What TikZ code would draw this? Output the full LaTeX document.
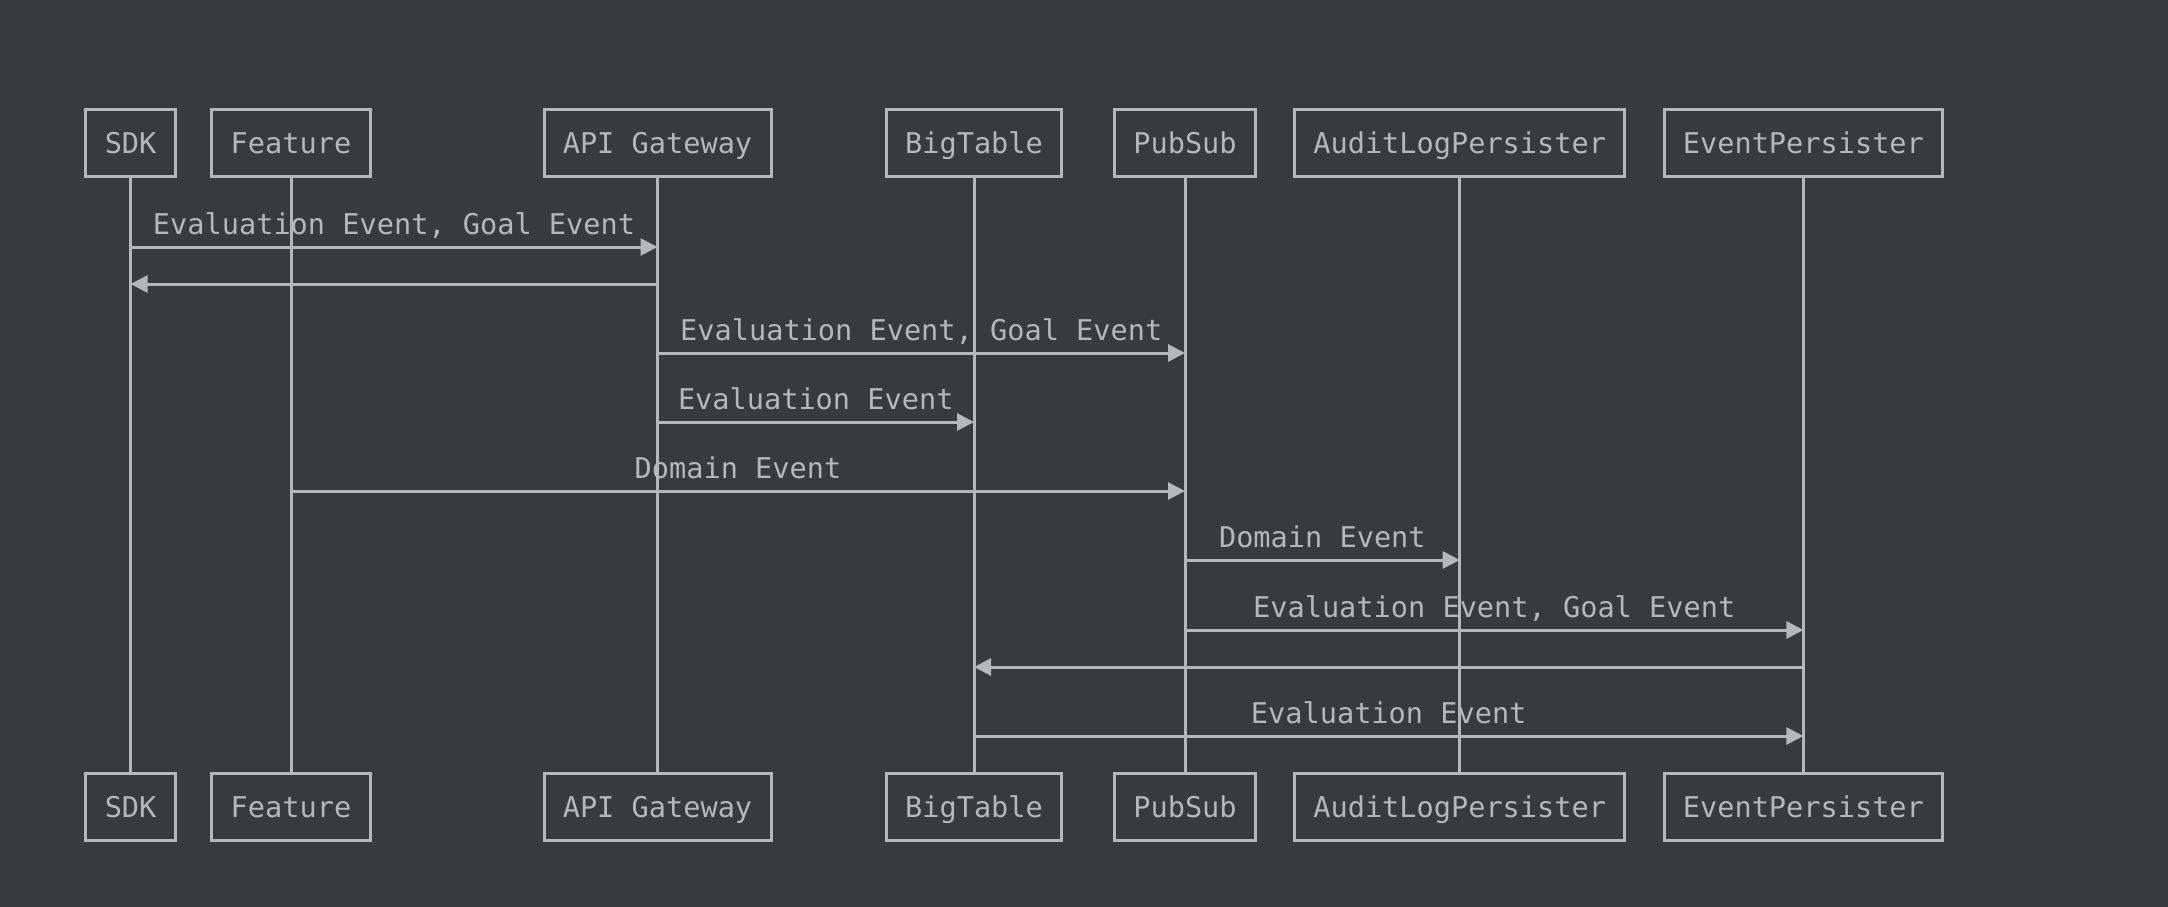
\documentclass[tikz,border=0pt]{standalone}
\usepackage{fontspec}
\setmonofont{DejaVu Sans Mono}
\usetikzlibrary{arrows.meta}
\definecolor{bgc}{RGB}{56,58,64}
\definecolor{ink}{RGB}{181,183,188}
\tikzset{
  actor/.style={draw=ink, fill=bgc, line width=1.5pt, text=ink, minimum height=33.5pt, inner xsep=9.4pt,
    text height=12pt, text depth=1.2pt, font=\ttfamily\fontsize{14.3}{17}\selectfont},
  life/.style={draw=ink, line width=1.5pt},
  msg/.style={draw=ink, line width=1.5pt, -{Triangle[length=8.5pt,width=8.5pt]}},
  lbl/.style={anchor=base, yshift=6.5pt, text=ink, inner sep=0pt, font=\ttfamily\fontsize{14.3}{17}\selectfont}
}
\begin{document}
\begin{tikzpicture}[x=0.5pt, y=-0.5pt]
        \useasboundingbox (0,0) rectangle (2168,906);
        \fill[bgc] (-10,-10) rectangle (2178,916);
        % participants, top and bottom
        \foreach \n/\x/\t in {sdk/130.6/SDK, feature/291/Feature, api/657.5/API Gateway, bigtable/974/BigTable,
            pubsub/1185/PubSub, audit/1459.7/AuditLogPersister, eventp/1803.4/EventPersister} {
          \coordinate (\n) at (\x,143); \coordinate (\n-b) at (\x,807);
          \draw[life] (\n) -- (\n-b);
        }
        \foreach \n/\t in {sdk/SDK, feature/Feature, api/API Gateway, bigtable/BigTable,
            pubsub/PubSub, audit/AuditLogPersister, eventp/EventPersister} {
          \node[actor] (\n-top) at (\n) {\t};
          \node[actor] (\n-bot) at (\n-b) {\t};
        }
        % messages
        \foreach \a/\b/\y/\t in {sdk/api/247/{Evaluation Event, Goal Event}, api/sdk/284/{},
            api/pubsub/353/{Evaluation Event, Goal Event}, api/bigtable/422/{Evaluation Event},
            feature/pubsub/491/{Domain Event}, pubsub/audit/560/{Domain Event},
            pubsub/eventp/630/{Evaluation Event, Goal Event}, eventp/bigtable/667/{},
            bigtable/eventp/736/{Evaluation Event}}
          \draw[msg] (\a |- 0,\y) -- node[lbl] {\t} (\b |- 0,\y);
    \end{tikzpicture}
\end{document}
